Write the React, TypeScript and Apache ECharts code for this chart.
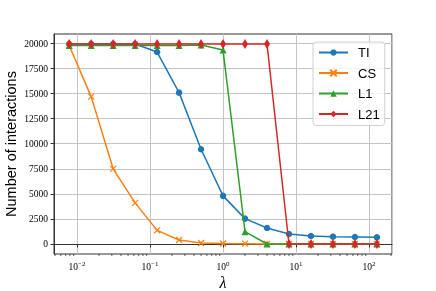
import React, { useEffect, useRef } from "react";
import * as echarts from "echarts";

const lambdas = [0.0078125, 0.015625, 0.03125, 0.0625, 0.125, 0.25, 0.5, 1, 2, 4, 8, 16, 32, 64, 128];
const tiValues = [19950, 19950, 19950, 19950, 19150, 15100, 9450, 4800, 2530, 1600, 1000, 800, 730, 700, 660];
const csValues = [19800, 14700, 7500, 4100, 1360, 400, 100, 50, 30, 0, 0, 0, 0, 0, 0];
const l1Values = [19800, 19800, 19800, 19800, 19800, 19800, 19850, 19350, 1230, 0, 0, 0, 0, 0, 0];
const l21Values = [19950, 19950, 19950, 19950, 19950, 19950, 19950, 19950, 19950, 19950, 0, 0, 0, 0, 0];
const yTicks = [0, 2500, 5000, 7500, 10000, 12500, 15000, 17500, 20000];
const seriesNames = ["TI", "CS", "L1", "L21"];
const colors = ["#1f77b4", "#ff7f0e", "#2ca02c", "#d62728"];

const X_MIN = 0.00484;
const X_MAX = 206;
const Y_MIN = -1000;
const Y_MAX = 20950;

const minorTicks: number[] = [];
for (let e = -3; e <= 2; e++) {
  for (let m = 2; m <= 9; m++) {
    const v = m * Math.pow(10, e);
    if (v > X_MIN && v < X_MAX) minorTicks.push(v);
  }
}

const pair = (vals: number[]) => lambdas.map((x, i) => [x, vals[i]]);

export default function App() {
  const ref = useRef<HTMLDivElement>(null);
  useEffect(() => {
    document.body.style.margin = "0";
    const chart = echarts.init(ref.current!, null, { renderer: "svg" });
    const lineBase = (name: string, idx: number, vals: number[], symbol: string, size: any, extra: any = {}) => ({
      name,
      type: "line",
      data: pair(vals),
      symbol,
      symbolSize: size,
      showSymbol: true,
      z: 3 + idx,
      lineStyle: { color: colors[idx], width: 1.5 },
      itemStyle: { color: colors[idx], ...extra },
      emphasis: { disabled: true },
    });
    chart.setOption({
      animation: false,
      grid: {
        left: 54, right: 44, top: 34, bottom: 37,
        outerBoundsMode: "none",
        containLabel: false,
        show: true, borderColor: "#333", borderWidth: 1, backgroundColor: "transparent",
      },
      legend: {
        data: seriesNames,
        orient: "vertical",
        left: 313,
        top: 42,
        padding: [4, 5, 5, 5],
        itemWidth: 29,
        itemHeight: 8,
        itemGap: 7.5,
        borderColor: "#d0d0d0",
        borderWidth: 1,
        borderRadius: 3,
        backgroundColor: "rgba(255,255,255,0.8)",
        textStyle: { fontFamily: "Liberation Sans", fontSize: 13, color: "#000", padding: [0, 0, 0, 5] },
      },
      xAxis: {
        type: "log",
        logBase: 10,
        min: X_MIN,
        max: X_MAX,
        name: "λ",
        nameLocation: "middle",
        nameGap: 20,
        nameMoveOverlap: false,
        nameTextStyle: { fontFamily: "Liberation Serif", fontStyle: "italic", fontSize: 16, color: "#000" },
        axisLine: { show: true, lineStyle: { color: "#333", width: 1 } },
        axisTick: { show: true, inside: false, length: 3.5, lineStyle: { color: "#333" } },
        splitLine: { show: true, lineStyle: { color: "#c4c4c4", width: 1 } },
        axisLabel: {
          showMinLabel: false,
          showMaxLabel: false,
          margin: 6,
          formatter: (v: number) => {
            const e = Math.log10(v);
            const r = Math.round(e);
            if (Math.abs(e - r) > 1e-6) return "";
            return `{b|10}{s|${r < 0 ? "−" : ""}${Math.abs(r)}}`;
          },
          rich: {
            b: { fontFamily: "Liberation Serif", fontSize: 9.5, color: "#000" },
            s: { fontFamily: "Liberation Serif", fontSize: 7, color: "#000", padding: [0, 0, 6, 0] },
          },
        },
      },
      yAxis: {
        type: "value",
        min: Y_MIN,
        max: Y_MAX,
        name: "Number of interactions",
        nameLocation: "middle",
        nameGap: 36,
        nameMoveOverlap: false,
        nameTextStyle: { fontFamily: "Liberation Sans", fontSize: 14.5, color: "#000" },
        axisLine: { show: true, lineStyle: { color: "#333", width: 1 } },
        axisTick: { show: true, inside: false, length: 3.5, lineStyle: { color: "#333" }, customValues: yTicks },
        splitLine: { show: true, lineStyle: { color: "#c4c4c4", width: 1 } },
        axisLabel: {
          customValues: yTicks,
          margin: 6,
          fontFamily: "Liberation Serif",
          fontSize: 9.5,
          color: "#000",
          formatter: (v: number) => String(v),
        },
      },
      series: [
        lineBase("TI", 0, tiValues, "circle", 6.5),
        lineBase("CS", 1, csValues, "path://M0,0L10,10M10,0L0,10", 6, { borderColor: colors[1], borderWidth: 1.2, color: "none" }),
        lineBase("L1", 2, l1Values, "triangle", 7),
        lineBase("L21", 3, l21Values, "diamond", [6, 10]),
        {
          type: "custom",
          silent: true,
          clip: false,
          data: minorTicks.map((v) => [v, Y_MIN]),
          renderItem: (params: any, api: any) => {
            const p = api.coord([api.value(0), Y_MIN]);
            return {
              type: "line",
              shape: { x1: p[0], y1: p[1], x2: p[0], y2: p[1] + 2 },
              style: { stroke: "#333", lineWidth: 0.8 },
            };
          },
          z: 1,
        },
      ],
    });
    return () => chart.dispose();
  }, []);
  return <div ref={ref} style={{ width: 436, height: 291, position: "fixed", left: 0, top: 0 }} />;
}
